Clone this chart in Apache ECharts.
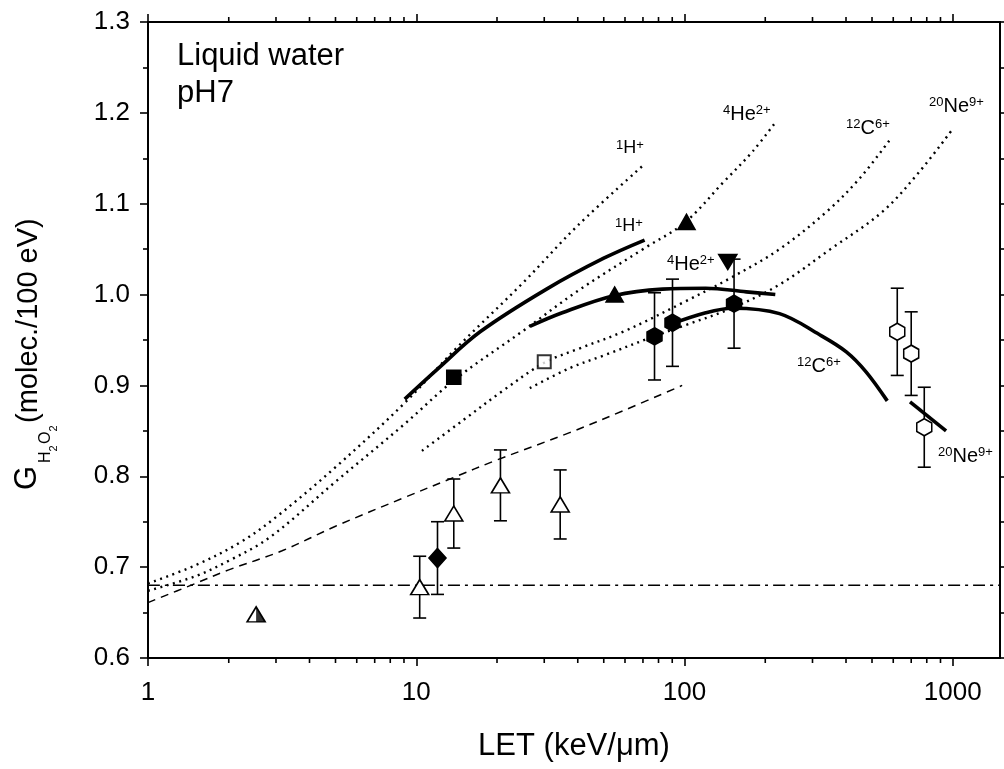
<!DOCTYPE html>
<html>
<head>
<meta charset="utf-8">
<script src="https://cdn.jsdelivr.net/npm/echarts@6/dist/echarts.min.js"></script>
<style>
  html, body { margin: 0; padding: 0; background: #fff; }
  #chart { width: 1004px; height: 769px; }
</style>
</head>
<body>
<div id="chart"></div>
<script>
// LET in keV/µm, G(H2O2) in molecules per 100 eV

// axis ticks
const xTickValues = [1, 10, 100, 1000];
const xMinorTicks = [2, 3, 4, 5, 6, 7, 8, 9, 20, 30, 40, 50, 60, 70, 80, 90, 200, 300, 400, 500, 600, 700, 800, 900];

// model curves (dotted), one per ion
const modelH = [[1, 0.682], [1.5, 0.702], [2.2, 0.727], [3, 0.755], [5, 0.810], [9, 0.880], [14, 0.940], [25, 1.013], [40, 1.076], [70, 1.142]];
const modelHe = [[1, 0.674], [1.5, 0.690], [2, 0.707], [2.85, 0.733], [5, 0.794], [9, 0.857], [14, 0.907], [25, 0.960], [40, 1.004], [70, 1.050], [100, 1.079], [140, 1.124], [180, 1.158], [220, 1.191]];
const modelC = [[10.5, 0.828], [15, 0.862], [21, 0.894], [30, 0.925], [40, 0.940], [60, 0.960], [100, 0.992], [150, 1.019], [226, 1.050], [338, 1.091], [450, 1.128], [585, 1.171]];
const modelNe = [[26.5, 0.897], [37.3, 0.919], [50, 0.933], [77, 0.954], [100, 0.966], [150, 0.985], [226, 1.011], [350, 1.050], [546, 1.091], [750, 1.135], [1004, 1.183]];

// simulated track-segment curves (solid)
const simH = [[9.06, 0.885], [12, 0.918], [17.3, 0.959], [30.6, 1.006], [50, 1.040], [71, 1.060]];
const simHe = [[26.5, 0.965], [35, 0.980], [54.9, 0.999], [82.8, 1.006], [120, 1.007], [170, 1.003], [218, 1.000]];
const simC = [[88, 0.967], [120, 0.980], [151, 0.985], [226, 0.979], [318, 0.956], [401, 0.937], [475, 0.915], [570, 0.883]];
const simNe = [[693, 0.882], [944, 0.850]];

// other reference curves
const dashedFit = [[1, 0.661], [1.5, 0.682], [2, 0.697], [3.16, 0.718], [5, 0.745], [8.93, 0.776], [13.6, 0.798], [20, 0.818], [37.3, 0.848], [60, 0.873], [98, 0.900]];
const lowLetLevel = [[1, 0.68], [1500, 0.68]];

// measurements: [LET, G, error]
const halfTriangle = [[2.53, 0.648]];
const openTriangles = [[10.3, 0.678, 0.034], [13.8, 0.759, 0.038], [20.6, 0.790, 0.039], [34.4, 0.769, 0.038]];
const filledDiamond = [[12.0, 0.710, 0.040]];
const filledSquare = [[13.8, 0.909]];
const openSquare = [[30.0, 0.926]];
const filledTriangles = [[54.9, 1.000], [101.7, 1.080]];
const downTriangle = [[145, 1.036]];
const filledHexagons = [[77.3, 0.954, 0.048], [90.2, 0.969, 0.048], [153, 0.990, 0.049]];
const openHexagons = [[621, 0.959, 0.048], [700, 0.935, 0.046], [783, 0.854, 0.044]];

const FONT = '"Liberation Sans", Arial, Helvetica, sans-serif';
const HEX = 'path://M5,0 L10,3 L10,9 L5,12 L0,9 L0,3 Z';
const DOTS = [2, 4.5];

const chart = echarts.init(document.getElementById('chart'), null, { renderer: 'canvas' });

function curve(data, type, width) {
  return {
    type: 'line', data, symbol: 'none', smooth: 0.35, silent: true, z: 2,
    lineStyle: { color: '#000', width, type, cap: 'butt' }
  };
}

function errorBars(data) {
  return {
    type: 'custom', data, silent: true, z: 3, encode: { x: 0, y: 1 },
    renderItem(params, api) {
      const x = api.value(0), y = api.value(1), e = api.value(2);
      const top = api.coord([x, y + e]);
      const bot = api.coord([x, y - e]);
      const h = 6.5;
      const st = { stroke: '#000', lineWidth: 1.6 };
      return {
        type: 'group', children: [
          { type: 'line', shape: { x1: top[0], y1: top[1], x2: bot[0], y2: bot[1] }, style: st },
          { type: 'line', shape: { x1: top[0] - h, y1: top[1], x2: top[0] + h, y2: top[1] }, style: st },
          { type: 'line', shape: { x1: bot[0] - h, y1: bot[1], x2: bot[0] + h, y2: bot[1] }, style: st }
        ]
      };
    }
  };
}

function markers(data, symbol, size, fill, extra) {
  return Object.assign({
    type: 'scatter', data, symbol, symbolSize: size, silent: true, z: 5,
    itemStyle: { color: fill, borderColor: '#000', borderWidth: 1.6, opacity: 1 }
  }, extra || {});
}

function ionLabel(x, y, pre, sym, post, size) {
  return {
    type: 'text', x, y, z: 10, silent: true,
    style: {
      text: '{s|' + pre + '}{m|' + sym + '}{s|' + post + '}',
      align: 'left', verticalAlign: 'middle',
      rich: {
        s: { fontSize: 13, lineHeight: 6, verticalAlign: 'top', fontFamily: FONT, fill: '#000' },
        m: { fontSize: size, lineHeight: size, fontFamily: FONT, fill: '#000' }
      }
    }
  };
}

const axisCommon = {
  axisLine: { show: true, onZero: false, lineStyle: { color: '#000', width: 2 } },
  axisTick: { show: true, inside: false, length: 8, lineStyle: { color: '#000', width: 1.6 } },
  splitLine: { show: false },
  minorSplitLine: { show: false }
};

const option = {
  animation: false,
  backgroundColor: '#fff',
  textStyle: { fontFamily: FONT, color: '#000' },
  grid: { left: 148, right: 4, top: 22, bottom: 111, containLabel: false, outerBoundsMode: 'none' },
  xAxis: [
    Object.assign({
      type: 'log', logBase: 10, min: 1, max: 1500, position: 'bottom',
      name: 'LET (keV/\u03bcm)', nameLocation: 'middle', nameGap: 73,
      nameTextStyle: { fontSize: 31, fontFamily: FONT, color: '#000' },
      axisLabel: { show: true, margin: 22, fontSize: 26, fontFamily: FONT, color: '#000', customValues: xTickValues, formatter: v => String(Math.round(v)) },
    }, axisCommon, {
      axisTick: { show: true, inside: false, length: 8, customValues: xTickValues, lineStyle: { color: '#000', width: 1.6 } }
    }),
    Object.assign({
      type: 'log', logBase: 10, min: 1, max: 1500, position: 'top',
      axisLabel: { show: false }
    }, axisCommon, {
      axisTick: { show: true, inside: false, length: 8, customValues: xTickValues, lineStyle: { color: '#000', width: 1.6 } }
    })
  ],
  yAxis: [
    Object.assign({
      type: 'value', min: 0.6, max: 1.3, interval: 0.1, position: 'left',
      axisLabel: { show: true, margin: 18, fontSize: 26, fontFamily: FONT, color: '#000', formatter: v => v.toFixed(1) },
      minorTick: { show: true, splitNumber: 2, length: 5, lineStyle: { color: '#000', width: 1.6 } }
    }, axisCommon),
    Object.assign({
      type: 'value', min: 0.6, max: 1.3, interval: 0.1, position: 'right',
      axisLabel: { show: false },
      minorTick: { show: true, splitNumber: 2, length: 5, lineStyle: { color: '#000', width: 1.6 } }
    }, axisCommon)
  ],
  series: [
    curve(lowLetLevel, [12, 5, 3, 5], 1.5),
    curve(dashedFit, [8, 6], 1.5),
    curve(modelH, DOTS, 2.4),
    curve(modelHe, DOTS, 2.4),
    curve(modelC, DOTS, 2.4),
    curve(modelNe, DOTS, 2.4),
    curve(simH, 'solid', 3.6),
    curve(simHe, 'solid', 3.6),
    curve(simC, 'solid', 3.6),
    curve(simNe, 'solid', 3.6),
    errorBars(openTriangles),
    errorBars(filledDiamond),
    errorBars(filledHexagons),
    errorBars(openHexagons),
    markers(halfTriangle, 'triangle', [18, 15], '#fff'),
    markers(halfTriangle, 'path://M0,0 L1,2 L0,2 Z', [9, 15], '#000', { symbolOffset: [4.5, 0], itemStyle: { color: '#000', borderWidth: 0 }, z: 6 }),
    markers(openTriangles, 'triangle', [18, 15], '#fff'),
    markers(filledDiamond, 'diamond', [17, 19], '#000'),
    markers(filledSquare, 'rect', [14, 14], '#000'),
    markers(openSquare, 'rect', [13, 13], '#fff', { itemStyle: { color: '#fff', borderColor: '#000', borderWidth: 2 } }),
    markers(filledTriangles, 'triangle', [17, 15], '#000'),
    markers(downTriangle, 'triangle', [18, 15], '#000', { symbolRotate: 180 }),
    markers(filledHexagons, HEX, [15, 17], '#000'),
    markers(openHexagons, HEX, [15, 17], '#fff'),
    {
      // minor ticks of the logarithmic axes, bottom and top
      type: 'custom', silent: true, z: 4, clip: false,
      data: xMinorTicks.map(v => [v, 0.6]),
      encode: { x: 0, y: 1 },
      renderItem(params, api) {
        const v = api.value(0);
        const b = api.coord([v, 0.6]);
        const t = api.coord([v, 1.3]);
        const st = { stroke: '#000', lineWidth: 1.6 };
        return {
          type: 'group', children: [
            { type: 'line', shape: { x1: b[0], y1: b[1], x2: b[0], y2: b[1] + 5 }, style: st },
            { type: 'line', shape: { x1: t[0], y1: t[1], x2: t[0], y2: t[1] - 5 }, style: st }
          ]
        };
      }
    }
  ],
  graphic: [
    { type: 'text', x: 177, y: 56, silent: true, style: { text: 'Liquid water', fontSize: 31, fontFamily: FONT, fill: '#000', align: 'left', verticalAlign: 'middle' } },
    { type: 'text', x: 177, y: 93, silent: true, style: { text: 'pH7', fontSize: 31, fontFamily: FONT, fill: '#000', align: 'left', verticalAlign: 'middle' } },
    ionLabel(616, 148, '1', 'H', '+', 18),
    ionLabel(723, 114, '4', 'He', '2+', 20),
    ionLabel(846, 128, '12', 'C', '6+', 20),
    ionLabel(929, 106, '20', 'Ne', '9+', 20),
    ionLabel(615, 226, '1', 'H', '+', 18),
    ionLabel(667, 264, '4', 'He', '2+', 20),
    ionLabel(797, 366, '12', 'C', '6+', 20),
    ionLabel(938, 456, '20', 'Ne', '9+', 20),
    {
      // rotated y-axis title: G with H2O2 subscript, then units
      type: 'group', x: 27.5, y: 490, rotation: Math.PI / 2, silent: true,
      children: [
        { type: 'text', x: 0, y: 0, style: { text: 'G', fontSize: 31, fontFamily: FONT, fill: '#000', align: 'left', verticalAlign: 'middle' } },
        { type: 'text', x: 27, y: 18.5, style: { text: 'H', fontSize: 16, fontFamily: FONT, fill: '#000', align: 'left', verticalAlign: 'middle' } },
        { type: 'text', x: 38.5, y: 26, style: { text: '2', fontSize: 11, fontFamily: FONT, fill: '#000', align: 'left', verticalAlign: 'middle' } },
        { type: 'text', x: 46, y: 18.5, style: { text: 'O', fontSize: 16, fontFamily: FONT, fill: '#000', align: 'left', verticalAlign: 'middle' } },
        { type: 'text', x: 58.5, y: 26, style: { text: '2', fontSize: 11, fontFamily: FONT, fill: '#000', align: 'left', verticalAlign: 'middle' } },
        { type: 'text', x: 67, y: 1.5, style: { text: '(molec./100 eV)', fontSize: 29, fontFamily: FONT, fill: '#000', align: 'left', verticalAlign: 'middle' } }
      ]
    }
  ]
};

chart.setOption(option);
</script>
</body>
</html>
